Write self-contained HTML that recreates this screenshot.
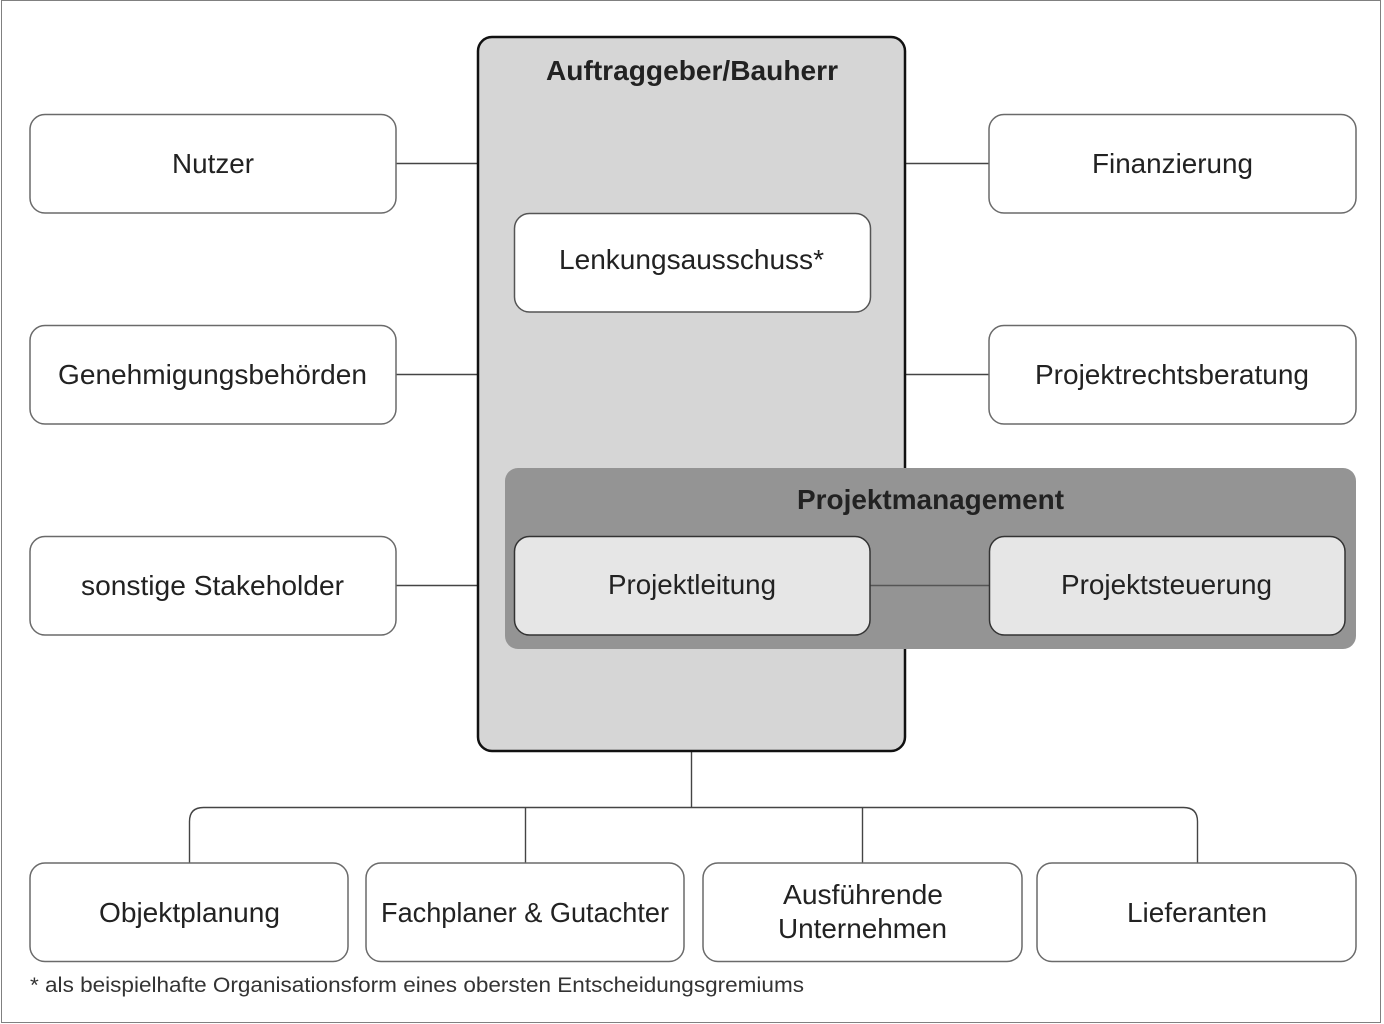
<!DOCTYPE html>
<html><head><meta charset="utf-8"><style>
html,body{margin:0;padding:0;background:#fff;}
svg{display:block;}
text{font-family:"Liberation Sans",Arial,sans-serif;fill:#222;}
</style></head><body>
<svg width="1384" height="1024" viewBox="0 0 1384 1024" xmlns="http://www.w3.org/2000/svg">
<rect x="0" y="0" width="1384" height="1024" fill="#fff"/>
<!-- page border -->
<rect x="1.5" y="0.5" width="1379" height="1022" fill="none" stroke="#808080" stroke-width="1"/>

<!-- connectors -->
<g stroke="#444" stroke-width="1.4" fill="none">
  <line x1="396" y1="163.5" x2="478" y2="163.5"/>
  <line x1="396" y1="374.5" x2="478" y2="374.5"/>
  <line x1="396" y1="585.5" x2="478" y2="585.5"/>
  <line x1="905" y1="163.5" x2="989" y2="163.5"/>
  <line x1="905" y1="374.5" x2="989" y2="374.5"/>
  <line x1="691.5" y1="751" x2="691.5" y2="807.5"/>
  <path d="M189.5 863 V821.5 Q189.5 807.5 203.5 807.5 H1183.5 Q1197.5 807.5 1197.5 821.5 V863"/>
  <line x1="525.5" y1="807.5" x2="525.5" y2="863"/>
  <line x1="862.5" y1="807.5" x2="862.5" y2="863"/>
</g>

<!-- left boxes -->
<g fill="#fff" stroke="#6a6a6a" stroke-width="1.5">
  <rect x="30" y="114.5" width="366" height="98.5" rx="15"/>
  <rect x="30" y="325.5" width="366" height="98.5" rx="15"/>
  <rect x="30" y="536.5" width="366" height="98.5" rx="15"/>
  <rect x="989" y="114.5" width="367" height="98.5" rx="15"/>
  <rect x="989" y="325.5" width="367" height="98.5" rx="15"/>
  <rect x="30" y="863" width="318" height="98.5" rx="15"/>
  <rect x="366" y="863" width="318" height="98.5" rx="15"/>
  <rect x="703" y="863" width="319" height="98.5" rx="15"/>
  <rect x="1037" y="863" width="319" height="98.5" rx="15"/>
</g>

<!-- main box -->
<rect x="478" y="37" width="427" height="714" rx="14" fill="#d6d6d6" stroke="#111" stroke-width="2.5"/>
<rect x="514.5" y="213.5" width="356" height="98.5" rx="15" fill="#fff" stroke="#555" stroke-width="1.5"/>

<!-- Projektmanagement -->
<rect x="505" y="468" width="851" height="181" rx="13" fill="#949494"/>
<line x1="870" y1="585.5" x2="989" y2="585.5" stroke="#555" stroke-width="1.4"/>
<rect x="514.5" y="536.5" width="355.5" height="98.5" rx="15" fill="#e6e6e6" stroke="#333" stroke-width="1.5"/>
<rect x="989.5" y="536.5" width="355.5" height="98.5" rx="15" fill="#e6e6e6" stroke="#333" stroke-width="1.5"/>

<!-- texts -->
<g font-size="28" text-anchor="middle">
  <text x="692" y="80" font-weight="bold" textLength="292" lengthAdjust="spacingAndGlyphs">Auftraggeber/Bauherr</text>
  <text x="930.5" y="509" font-weight="bold" textLength="267" lengthAdjust="spacingAndGlyphs">Projektmanagement</text>
  <text x="213" y="173" textLength="82" lengthAdjust="spacingAndGlyphs">Nutzer</text>
  <text x="212.5" y="384" textLength="309" lengthAdjust="spacingAndGlyphs">Genehmigungsbehörden</text>
  <text x="212.5" y="595" textLength="263" lengthAdjust="spacingAndGlyphs">sonstige Stakeholder</text>
  <text x="1172.5" y="173" textLength="161" lengthAdjust="spacingAndGlyphs">Finanzierung</text>
  <text x="1172" y="384" textLength="274" lengthAdjust="spacingAndGlyphs">Projektrechtsberatung</text>
  <text x="691.5" y="269" textLength="265" lengthAdjust="spacingAndGlyphs">Lenkungsausschuss*</text>
  <text x="692" y="594" textLength="168" lengthAdjust="spacingAndGlyphs">Projektleitung</text>
  <text x="1166.5" y="594" textLength="211" lengthAdjust="spacingAndGlyphs">Projektsteuerung</text>
  <text x="189.5" y="922" textLength="181" lengthAdjust="spacingAndGlyphs">Objektplanung</text>
  <text x="525" y="922" textLength="288" lengthAdjust="spacingAndGlyphs">Fachplaner &amp; Gutachter</text>
  <text x="863" y="904" textLength="160" lengthAdjust="spacingAndGlyphs">Ausführende</text>
  <text x="862.5" y="938" textLength="169" lengthAdjust="spacingAndGlyphs">Unternehmen</text>
  <text x="1197" y="922" textLength="140" lengthAdjust="spacingAndGlyphs">Lieferanten</text>
</g>
<text x="30" y="992" font-size="21" fill="#333" style="fill:#333" textLength="774" lengthAdjust="spacingAndGlyphs">* als beispielhafte Organisationsform eines obersten Entscheidungsgremiums</text>
</svg>
</body></html>
